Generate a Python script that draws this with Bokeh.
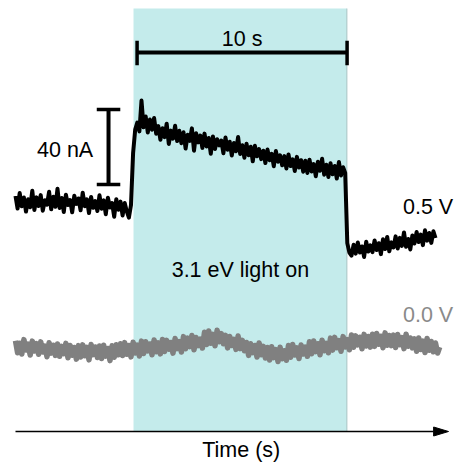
from bokeh.plotting import figure
from bokeh.models import Range1d
from bokeh.embed import file_html
from bokeh.resources import INLINE
from bokeh.core.properties import value
import numpy as np

# Photocurrent at 0.5 V bias (nA, offset for display), sampled every 0.1 s
current_05V = [
    125.6, 118.9, 127.2, 120.1, 124.8, 117.3, 123.9, 119.6, 128.4, 118.2,
    124.9, 120.3, 126.1, 117.8, 123.4, 121.0, 127.9, 118.5, 125.2, 119.9,
    129.5, 119.2, 124.6, 117.1, 126.3, 120.8, 123.5, 116.9, 125.8, 121.4,
    124.3, 118.0, 127.4, 120.2, 123.8, 116.5, 125.1, 119.3, 122.9, 117.6,
    126.0, 118.8, 123.3, 115.9, 124.7, 119.5, 121.8, 114.6, 123.9, 118.3,
    122.6, 115.2, 121.9, 117.4, 114.1, 120.8,
    148.5, 161.0,
    164.8, 160.1, 176.5, 162.3, 168.0, 159.5, 166.4, 161.0, 167.2, 158.8,
    162.9, 155.6, 161.8, 157.0, 164.2, 153.4, 160.5, 156.2, 163.1, 154.9,
    160.4, 153.8, 159.6, 150.9, 158.3, 155.0, 161.7, 149.8, 159.1, 154.2,
    157.8, 151.3, 158.9, 152.0, 156.6, 148.1, 157.4, 150.7, 155.9, 152.6,
    155.2, 148.4, 156.8, 150.3, 154.6, 147.2, 153.9, 149.5, 157.1, 148.0,
    152.7, 146.0, 153.5, 147.4, 151.9, 144.1, 152.4, 146.8, 150.6, 145.3,
    149.8, 143.2, 150.4, 144.7, 148.1, 141.5, 149.6, 143.9, 147.3, 142.0,
    146.9, 140.3, 147.8, 141.6, 145.2, 139.0, 146.5, 140.8, 144.7, 138.6,
    144.4, 137.9, 145.0, 138.7, 142.6, 136.2, 143.9, 139.1, 145.5, 137.0,
    142.3, 135.8, 143.1, 137.2, 141.6, 134.9, 143.8, 136.6, 141.0, 137.9,
    100.5, 95.4,
    93.8, 99.6, 94.9, 100.8, 95.5, 98.7, 93.1, 101.2, 96.0, 99.3,
    95.7, 101.9, 96.8, 100.4, 94.6, 102.5, 97.3, 103.8, 96.1, 100.9,
    98.2, 104.1, 97.6, 103.3, 99.0, 106.2, 98.5, 102.7, 97.1, 104.6,
    100.3, 106.4, 101.1, 105.0, 99.4, 107.3, 101.8, 105.9, 100.6, 106.8,
    103.2,
]

# Current at 0.0 V bias (nA, offset for display), sampled every 0.1 s
current_00V = [
    48.4, 42.0, 47.1, 41.3, 49.0, 43.5, 46.6, 40.8, 48.2, 42.9,
    46.9, 41.2, 47.8, 42.4, 45.5, 39.9, 47.3, 41.8, 46.0, 40.6,
    46.7, 40.1, 45.4, 41.5, 47.0, 39.3, 45.9, 40.7, 44.8, 38.6,
    45.8, 39.7, 46.2, 40.4, 44.9, 38.2, 46.4, 41.0, 45.1, 39.5,
    45.6, 38.9, 46.0, 40.2, 44.3, 37.8, 45.7, 39.6, 46.3, 40.9,
    46.8, 40.5, 47.4, 41.2, 45.9, 39.8, 47.6, 41.9, 46.1, 40.3,
    48.2, 41.6, 47.9, 43.0, 46.7, 40.9, 48.8, 42.5, 47.3, 41.4,
    49.1, 42.7, 48.6, 43.9, 47.5, 41.8, 49.6, 44.2, 48.0, 42.4,
    50.6, 44.1, 49.8, 45.3, 51.2, 43.6, 50.1, 45.8, 49.3, 44.5,
    52.9, 46.4, 53.6, 47.1, 51.8, 45.7, 54.0, 47.9, 52.2, 46.8,
    51.3, 44.6, 50.7, 45.9, 49.2, 43.8, 50.9, 44.2, 48.6, 43.1,
    47.5, 40.6, 46.8, 42.1, 45.9, 39.7, 47.2, 40.9, 45.4, 39.2,
    44.8, 38.1, 45.2, 39.4, 43.7, 37.3, 44.9, 38.8, 43.1, 38.0,
    45.9, 39.6, 46.4, 40.8, 44.6, 38.9, 46.1, 41.3, 45.0, 40.1,
    47.9, 41.5, 48.3, 42.6, 46.8, 40.9, 48.7, 43.1, 47.0, 42.0,
    49.8, 43.4, 50.2, 44.7, 48.5, 42.8, 50.6, 45.1, 49.0, 43.6,
    51.5, 44.9, 51.0, 46.2, 50.3, 44.1, 51.8, 45.6, 50.7, 45.0,
    51.9, 45.4, 52.3, 46.5, 50.8, 44.7, 52.6, 46.0, 51.2, 45.8,
    51.4, 44.8, 51.7, 46.3, 50.1, 44.2, 51.9, 45.5, 49.9, 44.6,
    49.4, 42.8, 49.9, 43.7, 48.2, 42.1, 49.6, 43.3, 48.0, 42.5,
    47.2, 41.9, 45.0,
]

DT = 0.1                      # sampling interval, s
light_on = (5.62, 15.78)      # illumination window, s
time_bar = (5.79, 10.0)       # start and length of the time scale bar, s
current_bar = (131.7, 40.0)   # bottom and length of the current scale bar, nA

t_05 = np.arange(len(current_05V)) * DT
t_00 = np.arange(len(current_00V)) * DT

FONT = value("Liberation Sans")
FS = "21.5px"

p = figure(width=456, height=464, output_backend="svg", toolbar_location=None,
           x_range=Range1d(-0.714, 21.0), y_range=Range1d(-17.6, 229.9),
           min_border=0, outline_line_color=None)
p.axis.visible = False
p.grid.visible = False

# illuminated window
p.quad(left=[light_on[0]], right=[light_on[1]], bottom=[0], top=[225.6],
       fill_color="#c4ebeb", line_color=None)
p.segment(x0=[light_on[1]], y0=[0], x1=[light_on[1]], y1=[225.6],
          line_color="#a9c4c4", line_width=1)

# traces
p.line(t_00, current_00V, line_color="#808080", line_width=5.5, line_join="round")
p.line(t_05, current_05V, line_color="black", line_width=4, line_join="round")

# time scale bar
x0, dx = time_bar
ybar = 202.1
p.segment(x0=[x0], y0=[ybar], x1=[x0 + dx], y1=[ybar], line_color="black", line_width=4)
p.segment(x0=[x0, x0 + dx], y0=[195.4, 195.4], x1=[x0, x0 + dx], y1=[208.4, 208.4],
          line_color="black", line_width=3.5)
p.text(x=[x0 + dx / 2], y=[209.6], text=["10 s"], text_align="center",
       text_baseline="alphabetic", text_font=FONT, text_font_size=FS)

# current scale bar
y0, dy = current_bar
xbar = 4.43
p.segment(x0=[xbar], y0=[y0], x1=[xbar], y1=[y0 + dy], line_color="black", line_width=4)
p.segment(x0=[xbar - 0.56, xbar - 0.56], y0=[y0, y0 + dy], x1=[xbar + 0.56, xbar + 0.56],
          y1=[y0, y0 + dy], line_color="black", line_width=3.5)
p.text(x=[3.70], y=[150.4], text=["40 nA"], text_align="right",
       text_baseline="alphabetic", text_font=FONT, text_font_size=FS)

# labels
p.text(x=[18.45], y=[120.0], text=["0.5 V"], text_align="left",
       text_baseline="alphabetic", text_font=FONT, text_font_size=FS, text_color="black")
p.text(x=[18.45], y=[61.9], text=["0.0 V"], text_align="left",
       text_baseline="alphabetic", text_font=FONT, text_font_size=FS, text_color="#8a8a8a")
p.text(x=[10.71], y=[85.9], text=["3.1 eV light on"], text_align="center",
       text_baseline="alphabetic", text_font=FONT, text_font_size=FS)

# time axis arrow
ax_start, ax_tip, head_len, head_half = 0.0, 20.62, 0.71, 2.4
p.segment(x0=[ax_start], y0=[0], x1=[ax_tip - head_len], y1=[0], line_color="black", line_width=1.5)
p.patch([ax_tip - head_len, ax_tip, ax_tip - head_len], [head_half, 0, -head_half],
        fill_color="black", line_color="black", line_width=1)
p.text(x=[10.75], y=[-10.1], text=["Time (s)"], text_align="center",
       text_baseline="alphabetic", text_font=FONT, text_font_size=FS)

open("out.html", "w").write(file_html(p, INLINE))
